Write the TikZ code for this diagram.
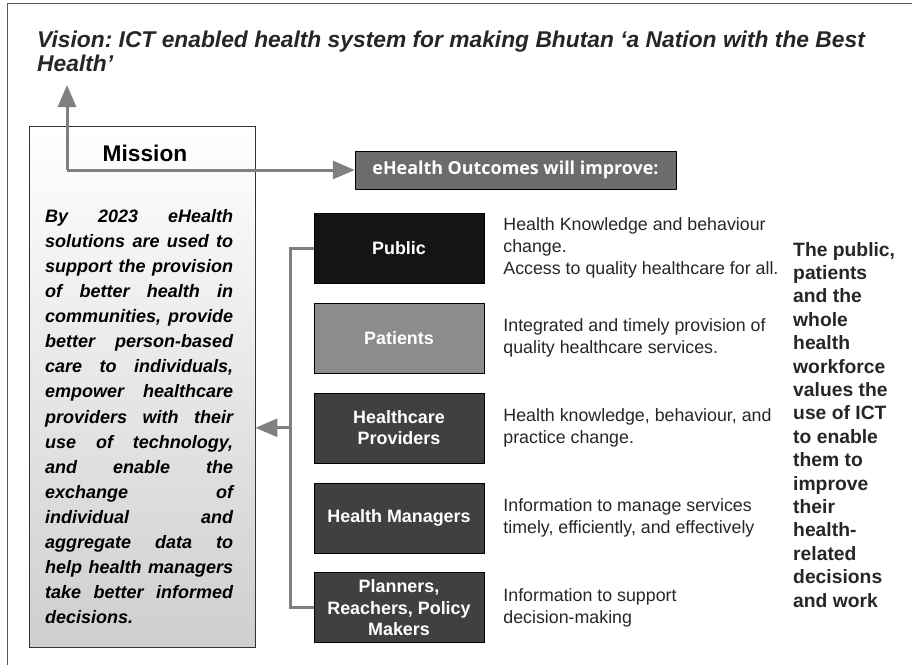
\documentclass[tikz,border=0pt]{standalone}
\usepackage{fontspec}
\setmainfont{Liberation Sans}
\newfontfamily\outfont{Open Sans}
\usetikzlibrary{positioning,arrows.meta}
\definecolor{flowgray}{HTML}{808080}
\definecolor{inkgray}{HTML}{262626}
\newcommand{\jline}[1]{\makebox[188pt][s]{#1}\\}
\frenchspacing

\begin{document}
\begin{tikzpicture}[x=1pt,y=-1pt,
    flow/.style={flowgray,line width=3pt},
    tip/.style={-{Triangle[width=18pt,length=22pt]}},
    stake/.style={draw=black,minimum width=170pt,minimum height=70pt,text=white,
        font=\fontsize{17.9}{21.5}\selectfont\bfseries,align=center,inner sep=2pt},
    desc/.style={inner sep=0pt,align=left,text=inkgray,font=\fontsize{17.8}{22}\selectfont}]
    \useasboundingbox (0,0) rectangle (912,665);
    \draw[gray!70!black,line width=1pt] (7,665) -- (7,3) -- (912,3);
    \node[anchor=north west,inner sep=0pt,align=left,text=inkgray,
        font=\fontsize{22.8}{23.5}\selectfont\bfseries\itshape] (vision) at (37,31)
        {Vision: ICT enabled health system for making Bhutan `a Nation with the Best\\Health'};
    \node[draw=black!80,top color=white,bottom color=gray!38,minimum width=226pt,
        minimum height=521pt,anchor=north west] (mission) at (29,126) {};
    \node[font=\fontsize{22.7}{26}\selectfont\bfseries] (missionhead) at (145,153) {Mission};
    \node[anchor=north west,inner sep=0pt,align=left,
        font=\fontsize{18}{25.1}\selectfont\bfseries\itshape] (missiontxt) at (45,209)
        {\jline{By 2023 eHealth}\jline{solutions are used to}\jline{support the provision}%
        \jline{of better health in}\jline{communities, provide}\jline{better person-based}%
        \jline{care to individuals,}\jline{empower healthcare}\jline{providers with their}%
        \jline{use of technology,}\jline{and enable the}\jline{exchange of}%
        \jline{individual and}\jline{aggregate data to}\jline{help health managers}%
        \jline{take better informed}decisions.};
    \node[draw=black,fill=gray!85!black,minimum width=321pt,minimum height=38pt,text=white,
        font=\fontsize{17.9}{21}\selectfont\outfont\bfseries] (outcome) at (515.5,170)
        {eHealth Outcomes will improve:};
    \node[stake,fill=black!92] (public) at (399,248) {Public};
    \node[stake,fill=gray!90,below=19.5pt of public] (patients) {Patients};
    \node[stake,fill=black!75,below=19.5pt of patients] (providers) {Healthcare\\Providers};
    \node[stake,fill=black!75,below=19.5pt of providers] (managers) {Health Managers};
    \node[stake,fill=black!75,below=19.5pt of managers] (planners) {Planners,\\Reachers, Policy\\Makers};
    \node[desc,right=19pt of public] (publicout) {Health Knowledge and behaviour\\change.\\Access to quality healthcare for all.};
    \node[desc,right=19pt of patients] (patientsout) {Integrated and timely provision of\\quality healthcare services.};
    \node[desc,right=19pt of providers] (providersout) {Health knowledge, behaviour, and\\practice change.};
    \node[desc,right=19pt of managers] (managersout) {Information to manage services\\timely, efficiently, and effectively};
    \node[desc,right=19pt of planners] (plannersout) {Information to support\\decision-making};
    \node[anchor=north west,inner sep=0pt,align=left,text=inkgray,
        font=\fontsize{19.3}{23.4}\selectfont\bfseries] (values) at (793,242)
        {The public,\\patients\\and the\\whole\\health\\workforce\\values the\\use of ICT\\to enable\\them to\\improve\\their\\health-\\related\\decisions\\and work};
    \coordinate (hub) at (67,170);
    \coordinate (visarr) at (67,85);
    \coordinate (bus) at (290,0);
    \draw[flow,tip] (hub) -- (visarr);
    \draw[flow,tip] (hub) -- (outcome.west);
    \draw[flow] (public.west) -| (bus |- planners.west) -- (planners.west);
    \draw[flow,tip] (bus |- providers.west) -- (mission.east |- providers.west);
\end{tikzpicture}
\end{document}
